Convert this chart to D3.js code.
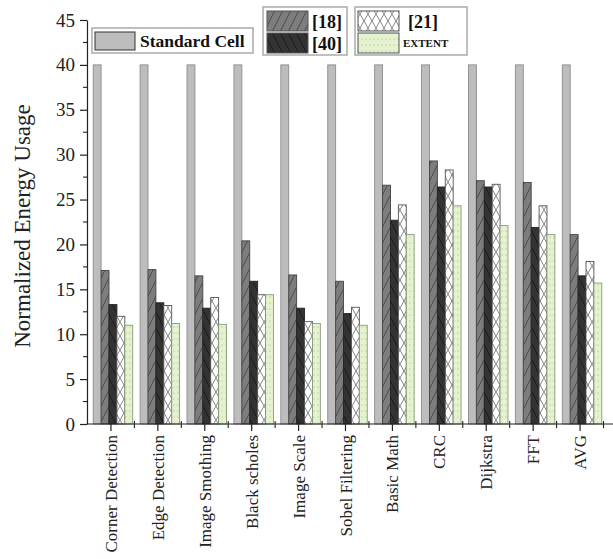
<!DOCTYPE html>
<html>
<head>
<meta charset="utf-8">
<script src="https://cdn.jsdelivr.net/npm/d3@7"></script>
<style>
  html, body { margin: 0; padding: 0; background: #fff; }
  svg { display: block; }
  svg text { font-family: "Liberation Serif", "Times New Roman", serif; }
</style>
</head>
<body>
<svg id="chart" width="613" height="559"></svg>
<script>
// Benchmarks on the x axis
const categories = ["Corner Detection", "Edge Detection", "Image Smothing", "Black scholes",
  "Image Scale", "Sobel Filtering", "Basic Math", "CRC", "Dijkstra", "FFT", "AVG"];

// Normalized energy usage per design
const standardCell = [40, 40, 40, 40, 40, 40, 40, 40, 40, 40, 40];
const ref18  = [17.1, 17.2, 16.5, 20.4, 16.6, 15.9, 26.6, 29.3, 27.1, 26.9, 21.1];
const ref40  = [13.3, 13.5, 12.9, 15.9, 12.9, 12.3, 22.7, 26.4, 26.4, 21.9, 16.5];
const ref21  = [12.0, 13.2, 14.1, 14.4, 11.4, 13.0, 24.4, 28.3, 26.7, 24.3, 18.1];
const extent = [11.0, 11.2, 11.1, 14.4, 11.2, 11.0, 21.1, 24.3, 22.1, 21.1, 15.7];

const yTicks = [0, 5, 10, 15, 20, 25, 30, 35, 40, 45];

const series = [
  { name: "Standard Cell", values: standardCell, fill: "#bdbdbd", stroke: "#8c8c8c" },
  { name: "[18]", values: ref18, fill: "url(#pat18)", stroke: "#444" },
  { name: "[40]", values: ref40, fill: "url(#pat40)", stroke: "#222" },
  { name: "[21]", values: ref21, fill: "url(#pat21)", stroke: "#555" },
  { name: "EXTENT", values: extent, fill: "url(#patExt)", stroke: "#8a9a78" }
];

const svg = d3.select("#chart");
const defs = svg.append("defs");

// Hatch patterns
const p18 = defs.append("pattern").attr("id", "pat18").attr("patternUnits", "userSpaceOnUse")
  .attr("width", 8).attr("height", 16);
p18.append("rect").attr("width", 8).attr("height", 16).attr("fill", "#7d7d7d");
p18.append("path").attr("d", "M0,16 L8,0").attr("stroke", "#4a4a4a").attr("stroke-width", 1);

const p40 = defs.append("pattern").attr("id", "pat40").attr("patternUnits", "userSpaceOnUse")
  .attr("width", 8).attr("height", 16);
p40.append("rect").attr("width", 8).attr("height", 16).attr("fill", "#333");
p40.append("path").attr("d", "M0,0 L8,16").attr("stroke", "#1a1a1a").attr("stroke-width", 1);

const p21 = defs.append("pattern").attr("id", "pat21").attr("patternUnits", "userSpaceOnUse")
  .attr("width", 8).attr("height", 14);
p21.append("rect").attr("width", 8).attr("height", 14).attr("fill", "#fff");
p21.append("path").attr("d", "M0,0 L8,14 M8,0 L0,14").attr("stroke", "#777").attr("stroke-width", 0.9);

const pExt = defs.append("pattern").attr("id", "patExt").attr("patternUnits", "userSpaceOnUse")
  .attr("width", 4).attr("height", 6);
pExt.append("rect").attr("width", 4).attr("height", 6).attr("fill", "#e4f2cf");
pExt.append("circle").attr("cx", 2).attr("cy", 3).attr("r", 0.6).attr("fill", "#9cb283");

// Scales
const x = d3.scaleBand().domain(categories).range([87.5, 603.5]).padding(0);
const y = d3.scaleLinear().domain([0, 45]).range([424, 20]);

const barW = 7.9;
const groupOffset = 5.7;
const serif = "Liberation Serif, Times New Roman, serif";

// Bars
series.forEach((s, si) => {
  svg.append("g").selectAll("rect")
    .data(categories.map((c, i) => ({ c, v: s.values[i] })))
    .join("rect")
    .attr("x", d => x(d.c) + groupOffset + si * barW)
    .attr("y", d => y(d.v))
    .attr("width", barW)
    .attr("height", d => y(0) - y(d.v))
    .attr("fill", s.fill)
    .attr("stroke", s.stroke)
    .attr("stroke-width", 0.9);
});

// Y axis
const yAxis = d3.axisLeft(y).tickValues(yTicks).tickSize(7).tickSizeOuter(0).tickPadding(5);
const gy = svg.append("g").attr("transform", "translate(87,0)").call(yAxis)
  .attr("font-family", serif).attr("font-size", 19);
gy.select(".domain").attr("stroke", "#222").attr("stroke-width", 1.2);
gy.selectAll(".tick line").attr("stroke", "#222").attr("stroke-width", 1.2);
gy.selectAll(".tick text").attr("fill", "#222");
// minor y ticks
svg.append("g").selectAll("line")
  .data(yTicks.slice(0, -1).map(t => t + 2.5))
  .join("line")
  .attr("x1", 83).attr("x2", 87)
  .attr("y1", d => y(d)).attr("y2", d => y(d))
  .attr("stroke", "#222").attr("stroke-width", 1.1);

// X axis
svg.append("line").attr("x1", 86.5).attr("x2", 613).attr("y1", 424).attr("y2", 424)
  .attr("stroke", "#222").attr("stroke-width", 1.2);
const gx = svg.append("g").attr("transform", "translate(0,424)");
gx.selectAll("line.major").data(categories).join("line").attr("class", "major")
  .attr("x1", d => x(d) + x.bandwidth() / 2).attr("x2", d => x(d) + x.bandwidth() / 2)
  .attr("y1", 0).attr("y2", 7).attr("stroke", "#222").attr("stroke-width", 1.2);
gx.selectAll("line.minor").data(categories).join("line").attr("class", "minor")
  .attr("x1", d => x(d) + x.bandwidth()).attr("x2", d => x(d) + x.bandwidth())
  .attr("y1", -3).attr("y2", 4).attr("stroke", "#222").attr("stroke-width", 1.1);
gx.selectAll("text").data(categories).join("text")
  .attr("transform", d => `translate(${x(d) + x.bandwidth() / 2 + 6},11) rotate(-90)`)
  .attr("text-anchor", "end")
  .attr("font-family", serif)
  .attr("font-size", 17)
  .attr("fill", "#222")
  .text(d => d);

// Y axis title
svg.append("text")
  .attr("transform", "translate(30,226) rotate(-90)")
  .attr("text-anchor", "middle")
  .attr("font-family", serif)
  .attr("font-size", 23)
  .attr("fill", "#222")
  .text("Normalized Energy Usage");

// Legends
function legendBox(x0, y0, w, h) {
  svg.append("rect").attr("x", x0).attr("y", y0).attr("width", w).attr("height", h)
    .attr("fill", "#fff").attr("stroke", "#aaa").attr("stroke-width", 1.5);
}
legendBox(92, 28, 161, 25);
svg.append("rect").attr("x", 95).attr("y", 32).attr("width", 40).attr("height", 18)
  .attr("fill", series[0].fill).attr("stroke", "#333").attr("stroke-width", 1);
svg.append("text").attr("x", 140).attr("y", 47).attr("font-family", serif)
  .attr("font-size", 17.5).attr("font-weight", "bold")
  .attr("fill", "#111").text(series[0].name);

legendBox(263, 7, 84, 48);
legendBox(355, 7, 112, 48);
const legendItems = [
  { s: series[1], sx: 267, sy: 11, tx: 312, ty: 28, fs: 18 },
  { s: series[2], sx: 267, sy: 33, tx: 312, ty: 50, fs: 18 },
  { s: series[3], sx: 358, sy: 11, tx: 408, ty: 28, fs: 18 },
  { s: series[4], sx: 358, sy: 33, tx: 403, ty: 47, fs: 11 }
];
legendItems.forEach(it => {
  svg.append("rect").attr("x", it.sx).attr("y", it.sy).attr("width", 41).attr("height", 20)
    .attr("fill", it.s.fill).attr("stroke", "#555").attr("stroke-width", 1);
  svg.append("text").attr("x", it.tx).attr("y", it.ty).attr("font-family", serif)
    .attr("font-size", it.fs)
    .attr("font-weight", "bold").attr("fill", "#111").text(it.s.name);
});
</script>
</body>
</html>
